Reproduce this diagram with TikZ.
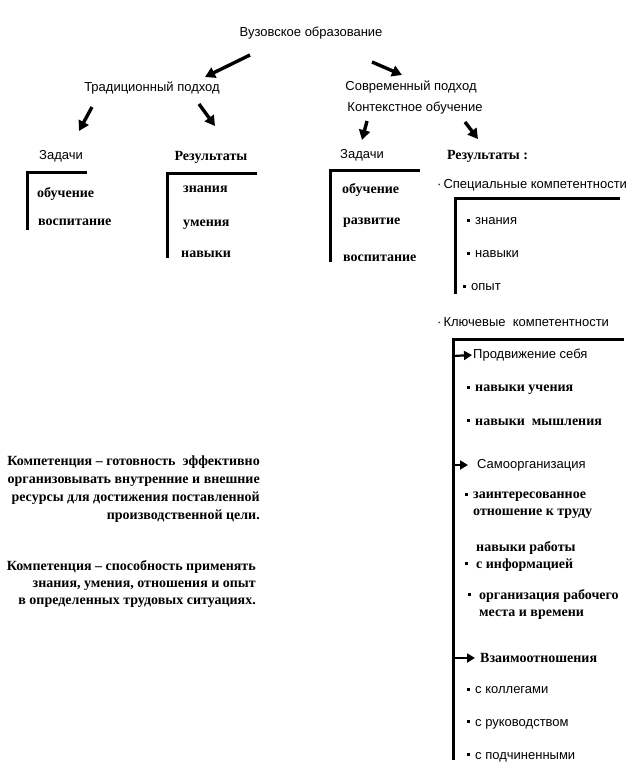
\documentclass[tikz,border=0pt]{standalone}
\usepackage{fontspec}
\setmainfont{Liberation Serif}
\setsansfont{Liberation Sans}
\usetikzlibrary{arrows.meta}
\newcommand{\bl}{\rule[0.22em]{3pt}{3pt}\hspace{5pt}}

\begin{document}
\begin{tikzpicture}[
    x=1pt, y=1pt,
    stxt/.style = {font=\sffamily\fontsize{13}{15}\selectfont, inner sep=1pt},
    rtxt/.style = {font=\rmfamily\bfseries\fontsize{14}{17}\selectfont, inner sep=1pt, align=left},
    deftxt/.style = {font=\rmfamily\bfseries\fontsize{14}{18}\selectfont, inner sep=1pt, align=right, anchor=east},
    item/.style = {anchor=west},
    brk/.style = {line width=3pt},
    arr/.style = {-{Triangle[length=10pt,width=11pt]}, line width=3.4pt},
    sarr/.style = {-{Triangle[length=8pt,width=9pt]}, line width=2.2pt}
]
\useasboundingbox (0,0) rectangle (642,-765);

%% ---- TOP ----
\node[stxt] (vuz)  at (311,-33)  {Вузовское образование};
\node[stxt] (trad) at (152,-88)  {Традиционный подход};
\node[stxt] (sovr) at (411,-87)  {Современный подход};
\node[stxt] (kont) at (415,-108) {Контекстное обучение};

%% ---- HEADINGS ----
\node[stxt] (zad-t) at (61,-156)    {Задачи};
\node[rtxt] (res-t) at (211,-157)   {Результаты};
\node[stxt] (zad-s) at (362,-155)   {Задачи};
\node[rtxt] (res-s) at (487.5,-156) {Результаты :};
\node[stxt, item] (spec)   at (436,-185) {\textperiodcentered\hspace{2pt}Специальные компетентности};
\node[stxt, item] (klyuch) at (436,-322) {\textperiodcentered\hspace{2pt}Ключевые\ \ компетентности};

%% ---- BRACKETS ----
\draw[brk] (87,-172)  -- (27,-172)  -- (27,-230);
\draw[brk] (257,-173) -- (167,-173) -- (167,-258);
\draw[brk] (420,-170) -- (330,-170) -- (330,-262);
\draw[brk] (620,-198) -- (455,-198) -- (455,-294);
\draw[brk] (624,-339) -- (453,-339) -- (453,-760);

%% ---- TRADITIONAL ITEMS ----
\node[rtxt, item] (t-obuch) at (36,-194)  {обучение};
\node[rtxt, item] (t-vosp)  at (37,-222)  {воспитание};
\node[rtxt, item] (t-zn)    at (182,-189) {знания};
\node[rtxt, item] (t-um)    at (182,-225) {умения};
\node[rtxt, item] (t-nav)   at (180,-254) {навыки};

%% ---- MODERN ITEMS ----
\node[rtxt, item] (s-obuch) at (341,-190) {обучение};
\node[rtxt, item] (s-razv)  at (342,-223) {развитие};
\node[rtxt, item] (s-vosp)  at (342,-258) {воспитание};
\node[stxt, item] (sp-zn)   at (466,-221) {\bl знания};
\node[stxt, item] (sp-nav)  at (466,-254) {\bl навыки};
\node[stxt, item] (sp-opyt) at (462,-287) {\bl опыт};

%% ---- KEY COMPETENCES ----
\coordinate (kl-prod)  at (453,-356);
\coordinate (kl-samo)  at (453,-465);
\coordinate (kl-vzaim) at (453,-658);
\node[stxt, item] (prod)    at (472,-355)   {Продвижение себя};
\node[rtxt, item] (pr-uch)  at (466,-390)   {\bl навыки учения};
\node[rtxt, item] (pr-mysh) at (466,-422)   {\bl навыки\ \ мышления};
\node[stxt, item] (samo)    at (476,-465)   {Самоорганизация};
\node[rtxt, item] (so-int)  at (472,-505.5) {\llap{\bl}заинтересованное\\отношение к труду};
\node[rtxt, item] (so-inf)  at (475,-556)   {навыки работы\\\llap{\bl\hspace{3pt}}с информацией};
\node[rtxt, item] (so-org)  at (478,-604)   {\llap{\bl\hspace{3pt}}организация рабочего\\места и времени};
\node[rtxt, item] (vzaim)   at (479,-658)   {Взаимоотношения};
\node[stxt, item] (vz-kol)  at (466,-690)   {\bl с коллегами};
\node[stxt, item] (vz-ruk)  at (466,-724)   {\bl с руководством};
\node[stxt, item] (vz-pod)  at (466,-757)   {\bl с подчиненными};

%% ---- DEFINITIONS ----
\node[deftxt] (def1) at (261,-489)
    {Компетенция – готовность\ \ эффективно\\организовывать внутренние и внешние\\ресурсы для достижения поставленной\\производственной цели.};
\node[deftxt, font=\rmfamily\bfseries\fontsize{14}{17}\selectfont] (def2) at (257,-584)
    {Компетенция – способность применять\\знания, умения, отношения и опыт\\в определенных трудовых ситуациях.};

%% ---- ARROWS ----
\draw[arr] ([shift={(-61,-22)}]vuz.center)  -- ([shift={(53,11)}]trad.center);
\draw[arr] ([shift={(61,-29)}]vuz.center)   -- ([shift={(-9,12)}]sovr.center);
\draw[arr] ([shift={(-60,-19)}]trad.center) -- ([shift={(18,25)}]zad-t.center);
\draw[arr] ([shift={(47,-16)}]trad.center)  -- ([shift={(4,31)}]res-t.center);
\draw[arr] ([shift={(-48,-13)}]kont.center) -- ([shift={(0,15)}]zad-s.center);
\draw[arr] ([shift={(50,-14)}]kont.center)  -- ([shift={(-9.5,17)}]res-s.center);

\draw[sarr] (kl-prod) -- (prod.west);
\draw[sarr, shorten >=8pt] (kl-samo) -- (samo.west);
\draw[sarr, shorten >=4pt] (kl-vzaim) -- (vzaim.west);

\end{tikzpicture}
\end{document}
